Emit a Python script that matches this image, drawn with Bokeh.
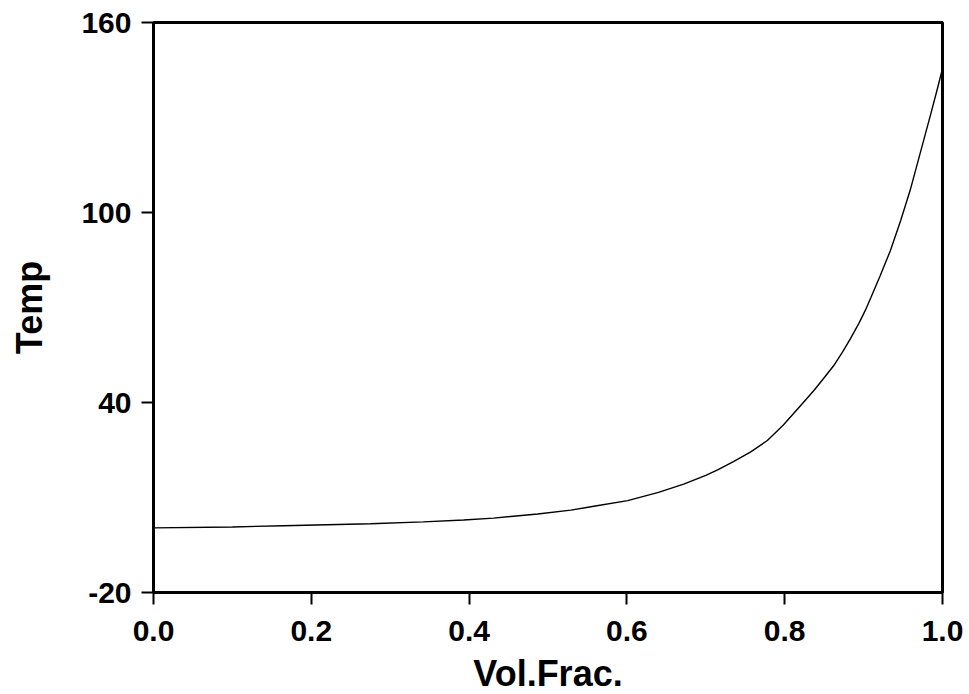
from bokeh.plotting import figure
from bokeh.models import FixedTicker, PrintfTickFormatter, Range1d
from bokeh.embed import file_html
from bokeh.resources import INLINE

# Data
vol_frac = [0.0, 0.1, 0.165, 0.275, 0.342, 0.393, 0.431, 0.487, 0.529, 0.560,
            0.601, 0.640, 0.672, 0.700, 0.715, 0.735, 0.757, 0.778, 0.798, 0.820,
            0.837, 0.849, 0.862, 0.873, 0.883, 0.894, 0.902, 0.909, 0.921, 0.934,
            0.947, 0.959, 0.972, 0.985, 0.995, 1.0]
temp = [0.4, 0.7, 1.1, 1.7, 2.3, 2.9, 3.5, 4.8, 6.0, 7.3,
        9.0, 11.6, 14.2, 17.0, 18.7, 21.3, 24.4, 28.0, 32.8, 39.0,
        43.8, 47.5, 51.6, 55.8, 60.0, 65.0, 69.0, 73.0, 80.0, 88.0,
        97.5, 107.0, 119.0, 131.0, 140.5, 145.5]
x_ticks = [0.0, 0.2, 0.4, 0.6, 0.8, 1.0]
y_ticks = [-20, 40, 100, 160]

FONT = "Liberation Sans"

p = figure(width=969, height=694, output_backend="svg", toolbar_location=None,
           x_range=Range1d(0, 1), y_range=Range1d(-20, 160),
           frame_width=789, frame_height=570,
           min_border_left=153, min_border_top=22, min_border_right=27,
           min_border_bottom=102)

p.line(vol_frac, temp, line_color="black", line_width=1.4)

p.grid.visible = False
p.outline_line_color = "black"
p.outline_line_width = 3
p.background_fill_color = "white"
p.border_fill_color = "white"

for ax in (p.xaxis[0], p.yaxis[0]):
    ax.axis_line_width = 3
    ax.axis_line_color = "black"
    ax.major_tick_in = 0
    ax.major_tick_out = 12
    ax.major_tick_line_width = 2
    ax.major_tick_line_color = "black"
    ax.minor_tick_line_color = None
    ax.major_label_text_font = FONT
    ax.major_label_text_font_size = "30px"
    ax.major_label_text_font_style = "bold"
    ax.major_label_text_color = "black"
    ax.axis_label_text_font = FONT
    ax.axis_label_text_font_size = "36px"
    ax.axis_label_text_font_style = "bold"
    ax.axis_label_text_color = "black"

p.xaxis.ticker = FixedTicker(ticks=x_ticks)
p.xaxis.formatter = PrintfTickFormatter(format="%.1f")
p.yaxis.ticker = FixedTicker(ticks=y_ticks)
p.yaxis.formatter = PrintfTickFormatter(format="%d")
p.xaxis.axis_label = "Vol.Frac."
p.yaxis.axis_label = "Temp"
p.xaxis.major_label_standoff = 16
p.yaxis.major_label_standoff = 10
p.xaxis.axis_label_standoff = 9
p.yaxis.axis_label_standoff = 28

open("out.html", "w").write(file_html(p, INLINE))
